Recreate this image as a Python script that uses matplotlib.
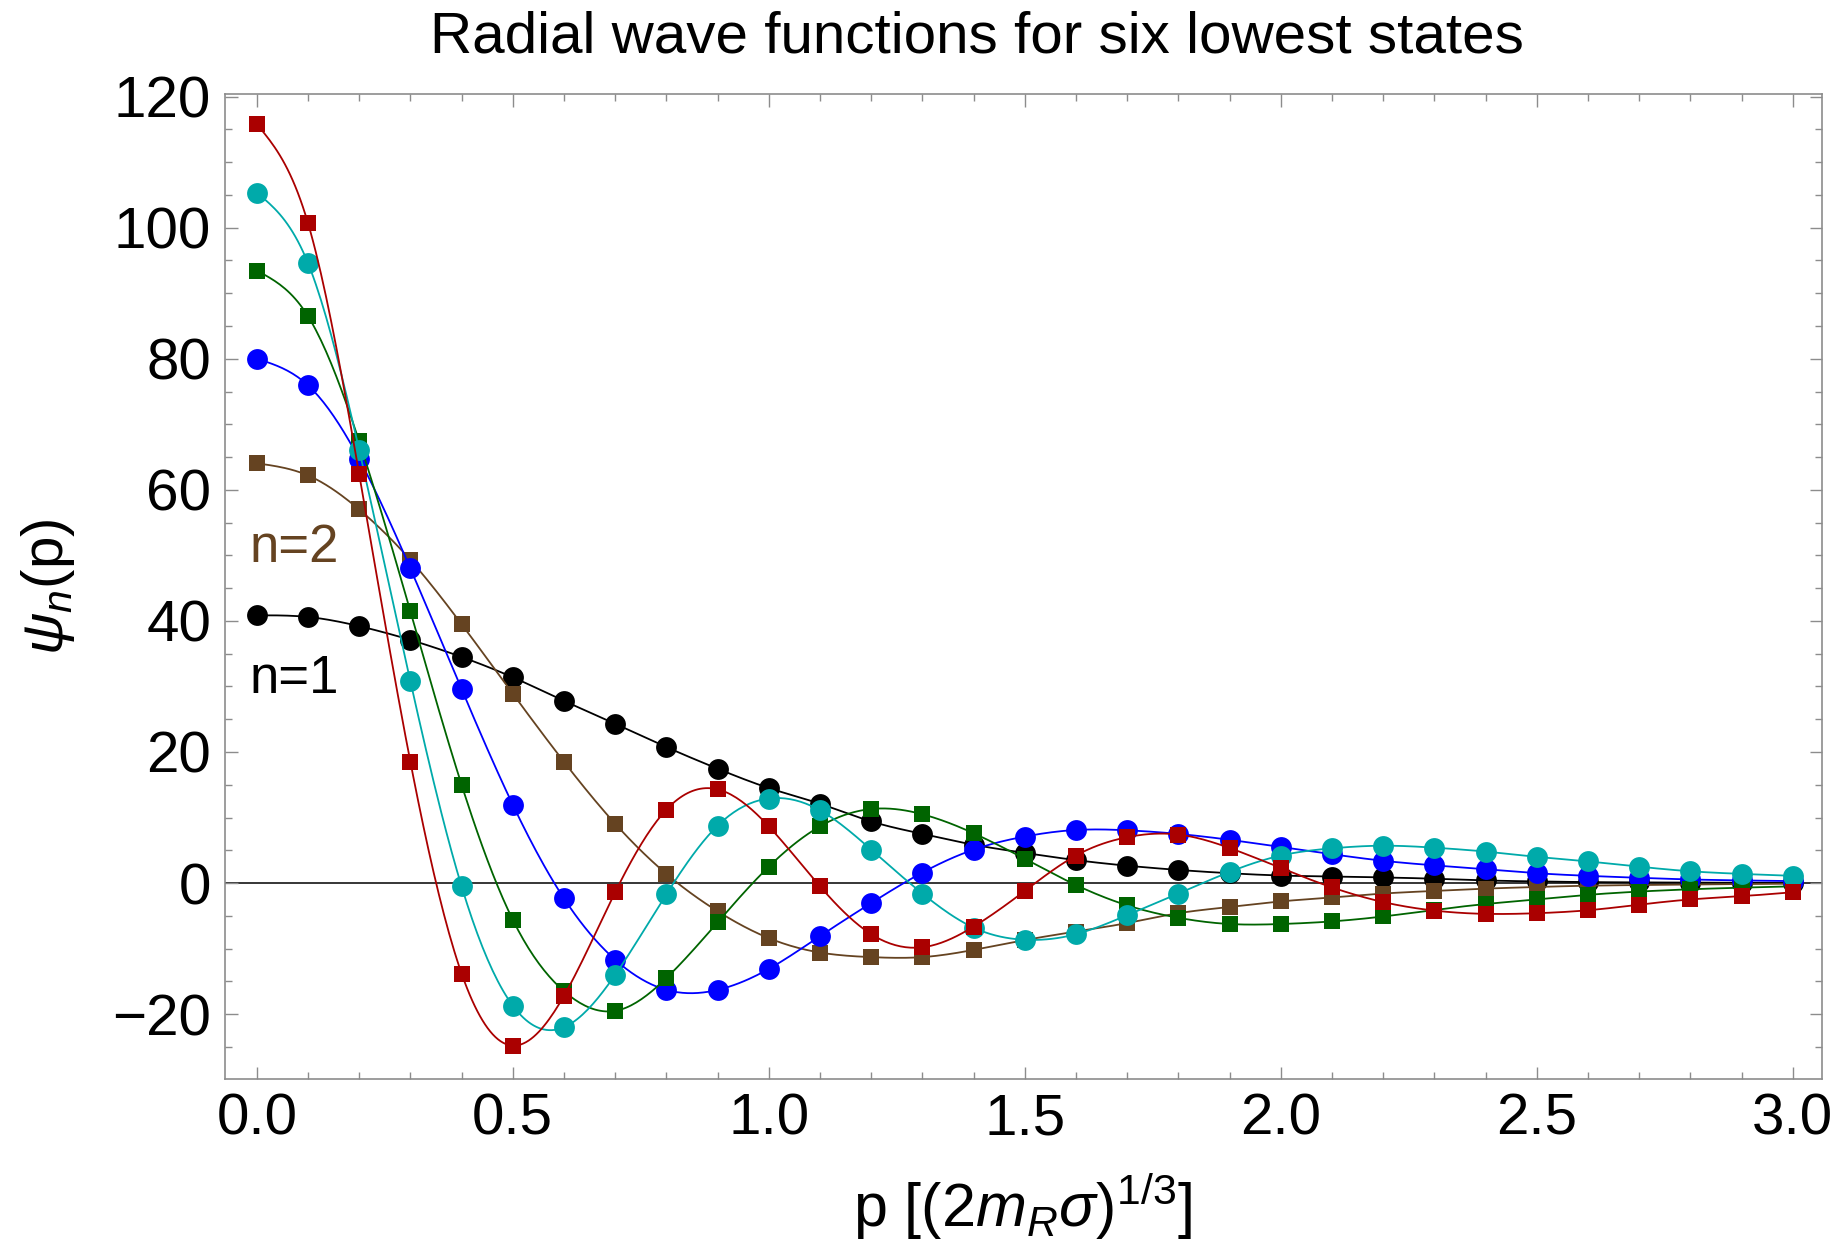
#! /usr/bin/python3
# radial wave functions of the six lowest states, momentum space
import matplotlib
matplotlib.use('Agg')
import matplotlib.pyplot as plt
from matplotlib.ticker import MultipleLocator
import numpy as np

plt.rcParams['font.family'] = ['Liberation Sans', 'DejaVu Sans']
plt.rcParams['mathtext.fontset'] = 'custom'
plt.rcParams['mathtext.rm'] = 'Liberation Sans'
plt.rcParams['mathtext.it'] = 'Liberation Sans:italic'

# momentum grid
p = [0.0, 0.1, 0.2, 0.3, 0.4, 0.5, 0.6, 0.7, 0.8, 0.9, 1.0,
     1.1, 1.2, 1.3, 1.4, 1.5, 1.6, 1.7, 1.8, 1.9, 2.0,
     2.1, 2.2, 2.3, 2.4, 2.5, 2.6, 2.7, 2.8, 2.9, 3.0]

# values
psi1 = [40.85, 40.6, 39.2, 37.1, 34.5, 31.4, 27.8, 24.3, 20.75, 17.45, 14.5,
        12.1, 9.4, 7.5, 5.85, 4.6, 3.5, 2.65, 2.0, 1.5, 1.15,
        1.0, 0.86, 0.66, 0.4, 0.25, 0.15, 0.1, 0.07, 0.04, 0.02]
psi2 = [64.05, 62.2, 57.0, 49.3, 39.5, 28.9, 18.5, 9.05, 1.4, -4.3, -8.4,
        -10.6, -11.3, -11.3, -10.2, -8.7, -7.4, -6.1, -4.6, -3.65, -2.8,
        -2.2, -1.6, -1.2, -0.85, -0.6, -0.4, -0.3, -0.2, -0.15, -0.1]
psi3 = [80.0, 75.95, 64.7, 48.0, 29.6, 11.95, -2.35, -11.7, -16.3, -16.3, -13.1,
        -8.1, -3.05, 1.6, 5.1, 7.1, 8.1, 8.05, 7.5, 6.6, 5.5,
        4.4, 3.4, 2.7, 2.1, 1.5, 1.1, 0.8, 0.55, 0.4, 0.3]
psi4 = [93.45, 86.5, 67.4, 41.45, 15.0, -5.6, -16.5, -19.5, -14.5, -6.0, 2.5,
        8.65, 11.3, 10.5, 7.6, 3.7, -0.3, -3.4, -5.3, -6.25, -6.25,
        -5.85, -5.1, -4.1, -3.2, -2.5, -1.8, -1.3, -0.95, -0.7, -0.5]
psi5 = [105.35, 94.6, 66.1, 30.8, -0.5, -18.7, -22.0, -14.0, -1.7, 8.75, 12.9,
        11.1, 5.1, -1.6, -6.8, -8.65, -7.8, -4.9, -1.6, 1.7, 4.2,
        5.3, 5.7, 5.4, 4.8, 4.0, 3.3, 2.5, 1.8, 1.4, 1.1]
psi6 = [115.8, 100.7, 62.4, 18.5, -13.8, -24.8, -17.2, -1.4, 11.2, 14.3, 8.65,
        -0.5, -7.8, -9.8, -6.65, -1.2, 4.2, 7.0, 7.4, 5.35, 2.3,
        -0.66, -2.9, -4.2, -4.7, -4.6, -4.15, -3.3, -2.5, -2.0, -1.4]

states = [psi1, psi2, psi3, psi4, psi5, psi6]
colors = ['#000000', '#654321', '#0000FF', '#006400', '#00AAAA', '#AA0000']
markers = ['o', 's', 'o', 's', 'o', 's']


# natural cubic spline, only used to draw the smooth line through the points
def smooth(x, y, num=600):
	x = np.asarray(x, float)
	y = np.asarray(y, float)
	n = len(x)
	h = np.diff(x)
	A = np.zeros((n, n))
	b = np.zeros(n)
	A[0, 0] = 1
	A[-1, -1] = 1
	for i in range(1, n - 1):
		A[i, i - 1] = h[i - 1]
		A[i, i] = 2 * (h[i - 1] + h[i])
		A[i, i + 1] = h[i]
		b[i] = 3 * ((y[i + 1] - y[i]) / h[i] - (y[i] - y[i - 1]) / h[i - 1])
	c = np.linalg.solve(A, b)
	xs = np.linspace(x[0], x[-1], num)
	k = np.clip(np.searchsorted(x, xs) - 1, 0, n - 2)
	dx = xs - x[k]
	bb = (y[k + 1] - y[k]) / h[k] - h[k] * (2 * c[k] + c[k + 1]) / 3
	d = (c[k + 1] - c[k]) / (3 * h[k])
	return xs, y[k] + bb * dx + c[k] * dx ** 2 + d * dx ** 3


fig = plt.figure(figsize=(18.43, 12.48), dpi=100)
ax = fig.add_axes([0.1221, 0.1354, 0.8665, 0.7893])

ax.axhline(0, color='black', lw=1.1, zorder=1)
for i in range(len(states)):
	xs, ys = smooth(p, states[i])
	ax.plot(xs, ys, color=colors[i], lw=1.3, zorder=2 + i)
	ms = 15 if markers[i] == 'o' else 12
	ax.plot(p, states[i], linestyle='none', marker=markers[i], ms=ms,
		color=colors[i], markeredgewidth=0, zorder=2.5 + i)

ax.text(-0.015, 49.0, 'n=2', color=colors[1], fontsize=38, ha='left', va='baseline')
ax.text(-0.015, 29.0, 'n=1', color=colors[0], fontsize=38, ha='left', va='baseline')

ax.set_xlim(-0.062, 3.057)
ax.set_ylim(-29.9, 120.4)
ax.xaxis.set_major_locator(MultipleLocator(0.5))
ax.xaxis.set_minor_locator(MultipleLocator(0.1))
ax.yaxis.set_major_locator(MultipleLocator(20))
ax.yaxis.set_minor_locator(MultipleLocator(5))
ax.xaxis.set_major_formatter(matplotlib.ticker.FormatStrFormatter('%.1f'))
ax.yaxis.set_major_formatter(matplotlib.ticker.FuncFormatter(
	lambda v, pos: ('\u2212' + str(int(-v))) if v < 0 else str(int(v))))

ax.tick_params(which='both', direction='in', top=True, right=True,
	color='#8c8c8c', width=1.0, labelsize=42, labelcolor='black')
ax.tick_params(which='major', length=9, pad=10)
ax.tick_params(which='minor', length=5)
for s in ax.spines.values():
	s.set_color('#8c8c8c')
	s.set_linewidth(1.2)

fig.text(0.53, 0.97, 'Radial wave functions for six lowest states',
	fontsize=42, ha='center', va='center')
fig.text(0.026, 0.53, r'$\psi_n$(p)', fontsize=42, rotation=90,
	ha='center', va='center')
fig.text(0.555, 0.033, r'p [(2$m_R\sigma$)$^{1/3}$]', fontsize=44,
	ha='center', va='center')

plt.savefig('out.png', dpi=100)
